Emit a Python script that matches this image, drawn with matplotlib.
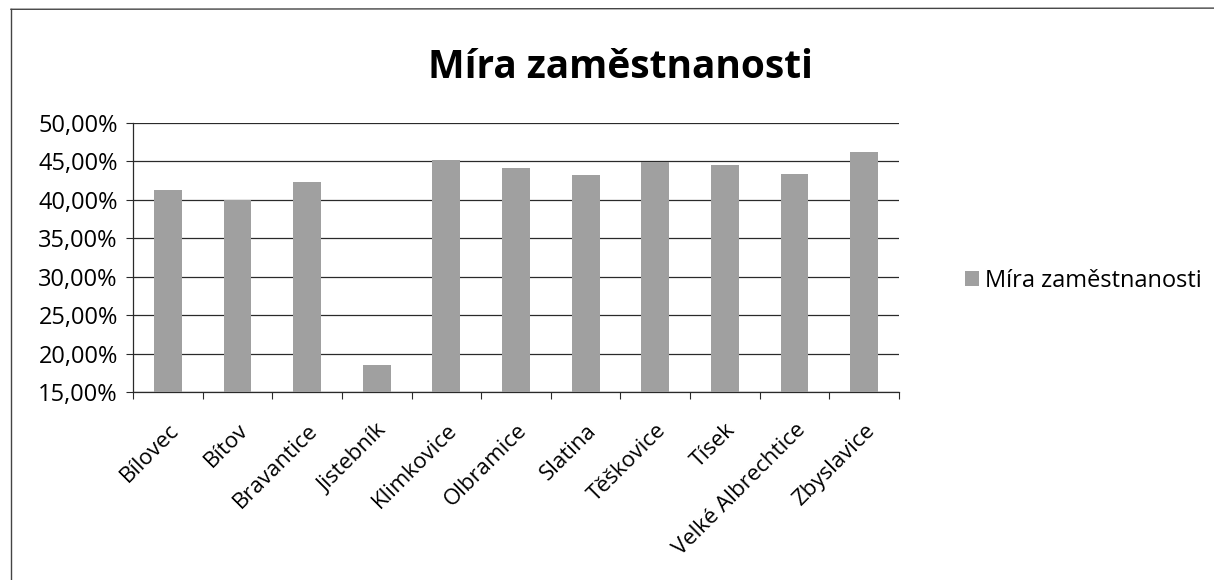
import matplotlib
matplotlib.use('Agg')
import matplotlib.pyplot as plt
from matplotlib.lines import Line2D
from matplotlib.patches import Patch
from matplotlib.ticker import FuncFormatter, FixedLocator

# data
OBCE = ['Bílovec', 'Bítov', 'Bravantice', 'Jistebník', 'Klimkovice', 'Olbramice',
        'Slatina', 'Těškovice', 'Tísek', 'Velké Albrechtice', 'Zbyslavice']
MIRA = [41.2, 40.0, 42.3, 18.5, 45.2, 44.1, 43.2, 44.9, 44.5, 43.3, 46.2]
Y_TICKS = [15, 20, 25, 30, 35, 40, 45, 50]

BAR_COLOR = '#a0a0a0'
LINE_COLOR = '#2a2a2a'

plt.rcParams.update({
    'font.family': ['Open Sans', 'DejaVu Sans'],
    'font.size': 16,
})

fig = plt.figure(figsize=(12.14, 5.8), dpi=100)
ax = fig.add_axes([0.1096, 0.3241, 0.6309, 0.4643])

x = range(len(OBCE))
ax.bar(x, [v - 15 for v in MIRA], bottom=15, width=0.4, color=BAR_COLOR,
       edgecolor='none', zorder=3, label='Míra zaměstnanosti')

ax.set_xlim(-0.5, len(OBCE) - 0.5)
ax.set_ylim(15, 50)
ax.yaxis.set_major_locator(FixedLocator(Y_TICKS))
ax.yaxis.set_major_formatter(FuncFormatter(lambda v, p: f'{v:.2f}%'.replace('.', ',')))
ax.grid(axis='y', color=LINE_COLOR, linewidth=0.9, zorder=0)

# category ticks sit between the bars, labels under the bars
ax.set_xticks([i - 0.5 for i in range(len(OBCE) + 1)])
ax.set_xticklabels([])
ax.set_xticks(list(x), minor=True)
ax.set_xticklabels(OBCE, minor=True, rotation=45, ha='right',
                   rotation_mode='anchor', fontsize=16)
ax.tick_params(axis='x', which='minor', length=0, pad=20)
ax.tick_params(axis='x', which='major', length=5, width=0.8, color=LINE_COLOR)
ax.tick_params(axis='y', length=5, width=0.8, color=LINE_COLOR, labelsize=17, pad=6)

for side in ['top', 'right']:
    ax.spines[side].set_visible(False)
for side in ['left', 'bottom']:
    ax.spines[side].set_color(LINE_COLOR)
    ax.spines[side].set_linewidth(0.9)

fig.text(0.511, 0.884, 'Míra zaměstnanosti', ha='center', va='center',
         fontsize=28, fontweight='bold')

handles = [Patch(facecolor=BAR_COLOR, edgecolor='none')]
fig.legend(handles=handles, labels=['Míra zaměstnanosti'], loc='center left',
           bbox_to_anchor=(0.777, 0.515), frameon=False, fontsize=17,
           handlelength=0.6, handleheight=0.6, handletextpad=0.25)

# frame of the chart area (only top and left survive in the scan)
fig.add_artist(Line2D([0.009, 1.0], [0.984, 0.986], transform=fig.transFigure,
                      color='#444444', linewidth=1.0))
fig.add_artist(Line2D([0.009, 0.009], [0.0, 0.984], transform=fig.transFigure,
                      color='#444444', linewidth=1.0))

fig.savefig('out.png', dpi=100, facecolor='white')
